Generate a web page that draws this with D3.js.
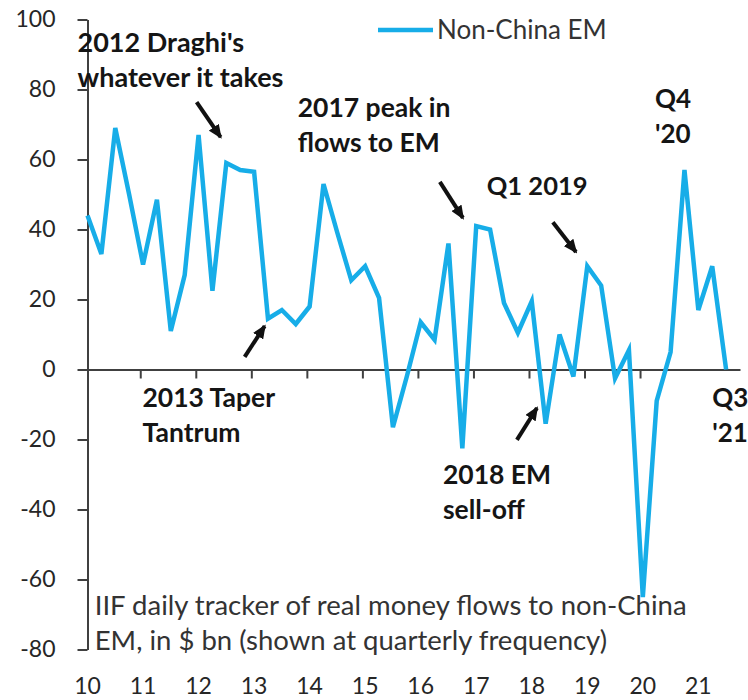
<!DOCTYPE html>
<html>
<head>
<meta charset="utf-8">
<script src="https://cdn.jsdelivr.net/npm/d3@7"></script>
<style>
  body { margin: 0; background: #fff; }
  svg { display: block; font-family: Lato, "Noto Sans", sans-serif; }
</style>
</head>
<body>
<div class="canvas"></div>
<script>
// quarterly flows, $ bn, Q1 2010 .. Q3 2021
const flows = [
  44, 33, 69, 50,
  30, 48.5, 11, 27,
  67, 22.5, 59, 57,
  56.5, 14.5, 17, 13,
  18, 53, 39, 25.5,
  29.5, 20.5, -16.5, -2,
  13.5, 8.5, 36, -22.5,
  41, 40, 19, 10.5,
  19.5, -15.5, 10, -2,
  29.5, 24, -2.5, 5.5,
  -65, -9, 5, 57,
  17, 29.5, 0
];
const startYear = 2010;
const yTicks = [-80, -60, -40, -20, 0, 20, 40, 60, 80, 100];
const yearLabels = [2010, 2011, 2012, 2013, 2014, 2015, 2016, 2017, 2018, 2019, 2020, 2021];
const yearTicks = [2011, 2012, 2013, 2014, 2015, 2016, 2017, 2018, 2019, 2020];
const seriesName = 'Non-China EM';

// annotations: first-line baseline in data space (t = year, v = $ bn)
const notes = [
  { lines: ["2012 Draghi's", "whatever it takes"], t: 2009.82, v: 90.7, size: 27 },
  { lines: ["2017 peak in", "flows to EM"], t: 2013.785, v: 72.1, size: 26.5 },
  { lines: ["Q1 2019"], t: 2017.19, v: 49.9, size: 25.5 },
  { lines: ["Q4", "'20"], t: 2020.22, v: 74.7, size: 26 },
  { lines: ["2013 Taper", "Tantrum"], t: 2010.99, v: -10.7, size: 26.5 },
  { lines: ["2018 EM", "sell-off"], t: 2016.40, v: -32.7, size: 26.5 },
  { lines: ["Q3", "'21"], t: 2021.25, v: -10.7, size: 26 }
];
const footnote = { lines: ["IIF daily tracker of real money flows to non-China", "EM,  in $ bn (shown at quarterly frequency)"], t: 2010.13, v: -70.1, size: 27.5 };

// arrows: [tail, head]
const arrows = [
  [[2011.965, 76.4], [2012.397, 66.4]],
  [[2012.83, 3.6], [2013.19, 12.4]],
  [[2016.345, 53.6], [2016.76, 43.3]],
  [[2018.38, 42.1], [2018.796, 33.6]],
  [[2017.733, -20.1], [2018.093, -11.0]]
];

const width = 748, height = 700;
const lineColour = '#17ade8';
const axisColour = '#404040';

const svg = d3.select('.canvas')
  .append('svg')
  .attr('width', width)
  .attr('height', height);

const x = d3.scaleLinear().domain([2010, 2021.75]).range([87.5, 740]);
const y = d3.scaleLinear().domain([-80, 100]).range([649.5, 19.5]);

const data = flows.map((v, i) => ({ t: startYear + i / 4, v }));

// y axis
const yAxis = svg.append('g')
  .attr('transform', `translate(${x(2010)},0)`)
  .call(d3.axisLeft(y).tickValues(yTicks).tickSize(10).tickSizeOuter(0).tickPadding(22).tickFormat(d => String(d)));
yAxis.select('.domain').attr('stroke', axisColour).attr('stroke-width', 2);
yAxis.selectAll('.tick line').attr('stroke', axisColour).attr('stroke-width', 2);
yAxis.selectAll('.tick text')
  .attr('fill', '#262626')
  .style('font-size', '23px')
  .style('font-family', 'Lato, sans-serif');

// zero line with year ticks
const xAxis = svg.append('g')
  .attr('transform', `translate(0,${y(0)})`)
  .call(d3.axisBottom(x).tickValues(yearTicks.map(d => d - 0.05)).tickSize(9).tickSizeOuter(0).tickFormat(''));
xAxis.select('.domain').attr('stroke', axisColour).attr('stroke-width', 2);
xAxis.selectAll('.tick line').attr('stroke', axisColour).attr('stroke-width', 2);

// year labels at the bottom
svg.append('g')
  .selectAll('text')
  .data(yearLabels)
  .join('text')
  .attr('x', d => x(d))
  .attr('y', 694)
  .attr('text-anchor', 'middle')
  .attr('fill', '#262626')
  .style('font-size', '23px')
  .text(d => String(d).slice(2));

// series line
const line = d3.line().x(d => x(d.t)).y(d => y(d.v));
svg.append('path')
  .datum(data)
  .attr('fill', 'none')
  .attr('stroke', lineColour)
  .attr('stroke-width', 4.5)
  .attr('stroke-linejoin', 'miter')
  .attr('d', line);

// legend
const legend = svg.append('g').attr('transform', 'translate(378,30)');
legend.append('line')
  .attr('x1', 0).attr('x2', 55)
  .attr('stroke', lineColour).attr('stroke-width', 4.5);
legend.append('text')
  .attr('x', 59).attr('y', 9)
  .attr('fill', '#333')
  .style('font-size', '26px')
  .text(seriesName);

// arrow heads
svg.append('defs').append('marker')
  .attr('id', 'head')
  .attr('viewBox', '0 0 14 12')
  .attr('refX', 12).attr('refY', 6)
  .attr('markerWidth', 14).attr('markerHeight', 12)
  .attr('markerUnits', 'userSpaceOnUse')
  .attr('orient', 'auto')
  .append('path')
  .attr('d', 'M0,0 L14,6 L0,12 Z')
  .attr('fill', '#111');

svg.append('g')
  .selectAll('line')
  .data(arrows)
  .join('line')
  .attr('x1', d => x(d[0][0])).attr('y1', d => y(d[0][1]))
  .attr('x2', d => x(d[1][0])).attr('y2', d => y(d[1][1]))
  .attr('stroke', '#111')
  .attr('stroke-width', 4)
  .attr('marker-end', 'url(#head)');

// annotation text
const drawNote = (g, n, bold) => {
  const t = g.append('text')
    .attr('x', x(n.t))
    .attr('y', y(n.v))
    .attr('fill', bold ? '#151515' : '#333')
    .style('font-size', n.size + 'px')
    .style('font-weight', bold ? 'bold' : 'normal');
  n.lines.forEach((s, i) => {
    t.append('tspan')
      .attr('x', x(n.t))
      .attr('dy', i === 0 ? 0 : 35)
      .text(s);
  });
};

const noteGroup = svg.append('g');
notes.forEach(n => drawNote(noteGroup, n, true));
drawNote(noteGroup, footnote, false);
</script>
</body>
</html>
